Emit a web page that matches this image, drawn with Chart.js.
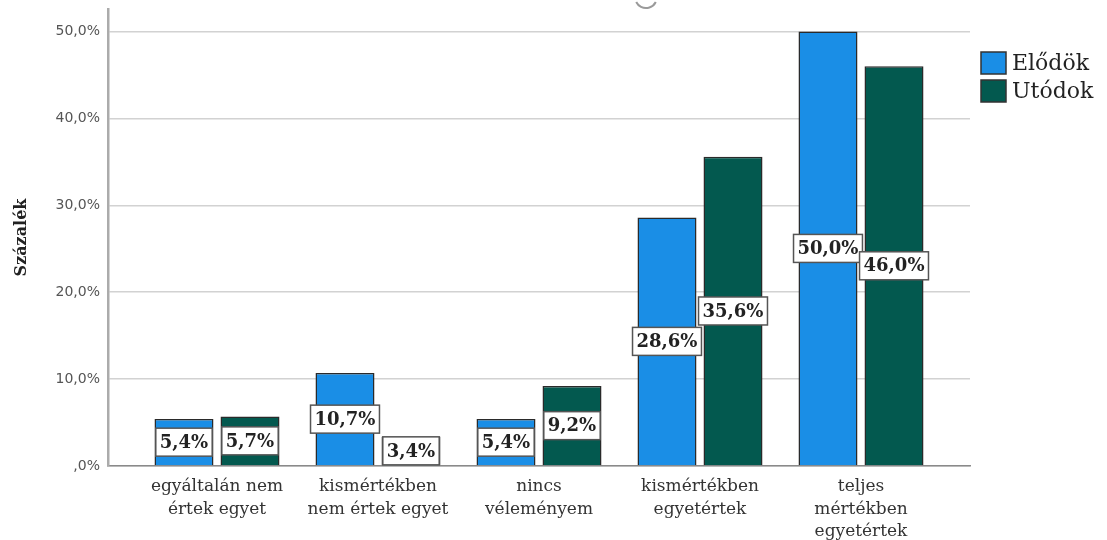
<!DOCTYPE html>
<html>
<head>
<meta charset="utf-8">
<script src="https://cdn.jsdelivr.net/npm/chart.js@4.4.1/dist/chart.umd.min.js"></script>
<style>
  html, body { margin: 0; padding: 0; background: #ffffff; }
  #wrap { width: 1107px; height: 540px; position: relative; }
</style>
</head>
<body>
<div id="wrap"><canvas id="c" width="1107" height="540"></canvas></div>
<script>
// ---- data ----
const categories = [
  ["egyáltalán nem", "értek egyet"],
  ["kismértékben", "nem értek egyet"],
  ["nincs", "véleményem"],
  ["kismértékben", "egyetértek"],
  ["teljes", "mértékben", "egyetértek"]
];
const seriesNames = ["Elődök", "Utódok"];
const elodok = [5.4, 10.7, 5.4, 28.6, 50.0];
const utodok = [5.7, 3.4, 9.2, 35.6, 46.0];
const yTicks = [0, 10, 20, 30, 40, 50];
const seriesColors = ["#1a8ee6", "#03594f"];

function fmtPct(v) {
  let s = v.toFixed(1).replace('.', ',');
  if (s.startsWith('0,')) s = s.slice(1);
  return s + '%';
}

const labelPlugin = {
  id: 'barLabels',
  afterDatasetsDraw(chart) {
    const ctx = chart.ctx;
    ctx.save();
    ctx.font = 'bold 18px "DejaVu Serif"';
    ctx.textAlign = 'center';
    ctx.textBaseline = 'middle';
    chart.data.datasets.forEach((ds, di) => {
      const meta = chart.getDatasetMeta(di);
      meta.data.forEach((bar, i) => {
        const v = ds.data[i].y;
        const txt = fmtPct(v);
        const cx = bar.x;
        const cy = (bar.y + bar.base) / 2;
        const w = ctx.measureText(txt).width + 8;
        const h = 28;
        ctx.fillStyle = '#ffffff';
        ctx.fillRect(cx - w / 2, cy - h / 2, w, h);
        ctx.lineWidth = 1.5;
        ctx.strokeStyle = '#555555';
        ctx.strokeRect(cx - w / 2, cy - h / 2, w, h);
        ctx.fillStyle = '#222222';
        ctx.fillText(txt, cx, cy + 1);
      });
    });
    ctx.restore();
  },
  afterDraw(chart) {
    const ctx = chart.ctx;
    const area = chart.chartArea;
    ctx.save();
    // legend
    const lx = area.right + 11;
    let ly = 52;
    ctx.font = '22px "DejaVu Serif"';
    ctx.textAlign = 'left';
    ctx.textBaseline = 'middle';
    seriesNames.forEach((name, i) => {
      ctx.fillStyle = seriesColors[i];
      ctx.fillRect(lx, ly, 25, 22);
      ctx.lineWidth = 1.5;
      ctx.strokeStyle = '#333333';
      ctx.strokeRect(lx, ly, 25, 22);
      ctx.fillStyle = '#222222';
      ctx.fillText(name, lx + 31, ly + 12);
      ly += 28;
    });
    // small grey arc artifact at top
    ctx.beginPath();
    ctx.strokeStyle = '#9a9a9a';
    ctx.lineWidth = 2;
    ctx.arc(646, -3, 11, 0.15 * Math.PI, 0.85 * Math.PI);
    ctx.stroke();
    ctx.restore();
  }
};

new Chart(document.getElementById('c'), {
  type: 'bar',
  data: {
    datasets: [
      {
        label: seriesNames[0],
        data: elodok.map((v, i) => ({ x: i, y: v })),
        backgroundColor: seriesColors[0],
        borderColor: '#2a2a2a',
        borderWidth: 1.5,
        barPercentage: 0.894,
        categoryPercentage: 0.82
      },
      {
        label: seriesNames[1],
        data: utodok.map((v, i) => ({ x: i, y: v })),
        backgroundColor: seriesColors[1],
        borderColor: '#2a2a2a',
        borderWidth: 1.5,
        barPercentage: 0.894,
        categoryPercentage: 0.82
      }
    ]
  },
  options: {
    responsive: false,
    animation: false,
    layout: { padding: { left: 0, right: 137, top: 9, bottom: 0 } },
    plugins: {
      legend: { display: false },
      tooltip: { enabled: false }
    },
    scales: {
      x: {
        type: 'linear',
        offset: false,
        min: -0.677,
        max: 4.677,
        afterBuildTicks(scale) {
          scale.ticks = categories.map((_, i) => ({ value: i }));
        },
        afterFit(scale) { scale.height = 74; scale.paddingLeft = 0; scale.paddingRight = 0; },
        grid: { display: false, drawTicks: false, offset: false },
        border: { display: true, color: '#8a8a8a', width: 1.5 },
        ticks: {
          padding: 10,
          autoSkip: false,
          maxRotation: 0,
          color: '#333333',
          font: { family: '"DejaVu Serif"', size: 17, lineHeight: 1.3 },
          callback: (v) => categories[v] || ''
        }
      },
      y: {
        min: 0,
        max: 52.6,
        afterBuildTicks(scale) {
          scale.ticks = yTicks.map(v => ({ value: v }));
        },
        afterFit(scale) { scale.width = 108; scale.paddingTop = 0; scale.paddingBottom = 0; },
        grid: { color: '#d2d2d2', lineWidth: 1.5, drawTicks: false },
        border: { display: true, color: '#ababab', width: 2.5 },
        ticks: {
          padding: 8,
          color: '#555555',
          font: { family: '"DejaVu Sans"', size: 14 },
          callback: (v) => fmtPct(v)
        },
        title: {
          display: true,
          text: 'Százalék',
          color: '#222222',
          padding: { top: 12, bottom: 0 },
          font: { family: '"DejaVu Serif"', size: 16, weight: 'bold' }
        }
      }
    }
  },
  plugins: [labelPlugin]
});
</script>
</body>
</html>
